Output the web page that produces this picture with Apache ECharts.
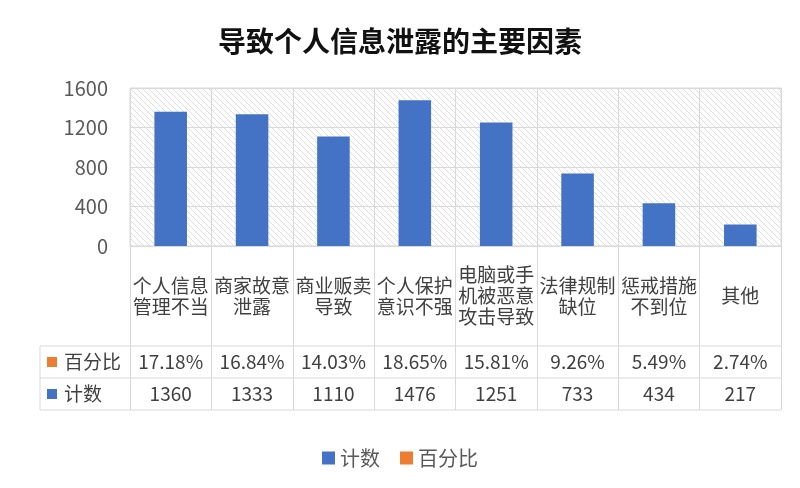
<!DOCTYPE html>
<html>
<head>
<meta charset="utf-8">
<script src="https://cdn.jsdelivr.net/npm/echarts@6/dist/echarts.min.js"></script>
<style>
html,body{margin:0;padding:0;background:#fff;}
#chart{width:800px;height:488px;}
</style>
</head>
<body>
<div id="chart"></div>
<script>
var categories = ['个人信息\n管理不当', '商家故意\n泄露', '商业贩卖\n导致', '个人保护\n意识不强', '电脑或手\n机被恶意\n攻击导致', '法律规制\n缺位', '惩戒措施\n不到位', '其他'];
var counts = [1360, 1333, 1110, 1476, 1251, 733, 434, 217];
var percents = [17.18, 16.84, 14.03, 18.65, 15.81, 9.26, 5.49, 2.74];
var yTicks = [0, 400, 800, 1200, 1600];
var titleText = '导致个人信息泄露的主要因素';
var seriesNames = ['计数', '百分比'];

var FONT = '"Noto Sans CJK SC", "Noto Sans", sans-serif';
var BLUE = '#4472C4', ORANGE = '#ED7D31', LINE = '#d9d9d9', TXT = '#404040';

// hatch pattern
var pc = document.createElement('canvas');
pc.width = 6; pc.height = 6;
var px = pc.getContext('2d');
px.fillStyle = '#ffffff'; px.fillRect(0, 0, 6, 6);
px.strokeStyle = '#dedede'; px.lineWidth = 1;
px.beginPath();
px.moveTo(-1, -1); px.lineTo(7, 7);
px.moveTo(-4, 2); px.lineTo(4, 10);
px.moveTo(2, -4); px.lineTo(10, 4);
px.stroke();

var GL = 130, GR = 19, GT = 88, GB = 242;
var AXIS_Y = 488 - GB;          // 246
var ROW1 = 346, ROW2 = 378, ROW3 = 410, TL = 40, TR = 800 - GR;

var chart = echarts.init(document.getElementById('chart'), null, {renderer: 'canvas'});
chart.setOption({
  animation: false,
  textStyle: {fontFamily: FONT},
  title: {
    text: titleText, left: 'center', top: 22,
    textStyle: {fontSize: 28, fontWeight: 'bold', color: '#111', fontFamily: FONT}
  },
  legend: {
    data: seriesNames, bottom: 15, left: 'center',
    icon: 'rect', itemWidth: 13, itemHeight: 13, itemGap: 20,
    textStyle: {fontSize: 20, color: '#595959', fontFamily: FONT}
  },
  grid: {
    left: GL, right: GR, top: GT, bottom: GB, outerBoundsMode: 'none', containLabel: false,
    show: true, borderColor: LINE, borderWidth: 1,
    backgroundColor: {image: pc, repeat: 'repeat'}
  },
  xAxis: [{
    type: 'category', data: categories, position: 'bottom',
    axisLine: {show: true, lineStyle: {color: LINE, width: 1}},
    axisTick: {show: true, interval: 0, length: ROW3 - AXIS_Y, lineStyle: {color: LINE}},
    splitLine: {show: true, interval: 0, lineStyle: {color: LINE}},
    axisLabel: {interval: 0, hideOverlap: false, margin: 50, verticalAlign: 'middle', lineHeight: 21,
      fontSize: 19, color: TXT, fontFamily: FONT}
  }, {
    type: 'category', data: percents.map(function (p) { return p.toFixed(2) + '%'; }), position: 'bottom',
    axisLine: {show: false}, axisTick: {show: false}, splitLine: {show: false},
    axisLabel: {interval: 0, hideOverlap: false, margin: (ROW1 + ROW2) / 2 - AXIS_Y, verticalAlign: 'middle',
      fontSize: 19, color: TXT, fontFamily: FONT}
  }, {
    type: 'category', data: counts.map(String), position: 'bottom',
    axisLine: {show: false}, axisTick: {show: false}, splitLine: {show: false},
    axisLabel: {interval: 0, hideOverlap: false, margin: (ROW2 + ROW3) / 2 - AXIS_Y, verticalAlign: 'middle',
      fontSize: 19, color: TXT, fontFamily: FONT}
  }],
  yAxis: {
    type: 'value', min: yTicks[0], max: yTicks[yTicks.length - 1], interval: yTicks[1] - yTicks[0],
    axisLine: {show: false}, axisTick: {show: false},
    splitLine: {show: true, lineStyle: {color: LINE}},
    axisLabel: {margin: 22, fontSize: 20, color: '#595959', fontFamily: FONT,
      formatter: function (v) { return String(v); }}
  },
  series: [{
    name: seriesNames[0], type: 'bar', data: counts, barWidth: '40%', barGap: '-100%',
    itemStyle: {color: BLUE}
  }, {
    name: seriesNames[1], type: 'bar', data: percents.map(function (p) { return p / 100; }), barWidth: '40%',
    itemStyle: {color: ORANGE}
  }],
  graphic: [
    {type: 'line', shape: {x1: TL, y1: ROW1, x2: TR, y2: ROW1}, style: {stroke: LINE, lineWidth: 1}},
    {type: 'line', shape: {x1: TL, y1: ROW2, x2: TR, y2: ROW2}, style: {stroke: LINE, lineWidth: 1}},
    {type: 'line', shape: {x1: TL, y1: ROW3, x2: TR, y2: ROW3}, style: {stroke: LINE, lineWidth: 1}},
    {type: 'line', shape: {x1: TL, y1: ROW1, x2: TL, y2: ROW3}, style: {stroke: LINE, lineWidth: 1}},
    {type: 'rect', shape: {x: 47, y: (ROW1 + ROW2) / 2 - 5, width: 10, height: 10}, style: {fill: ORANGE}},
    {type: 'text', x: 64, y: (ROW1 + ROW2) / 2, style: {text: seriesNames[1], fontSize: 19, fill: TXT, fontFamily: FONT, verticalAlign: 'middle'}},
    {type: 'rect', shape: {x: 47, y: (ROW2 + ROW3) / 2 - 5, width: 10, height: 10}, style: {fill: BLUE}},
    {type: 'text', x: 64, y: (ROW2 + ROW3) / 2, style: {text: seriesNames[0], fontSize: 19, fill: TXT, fontFamily: FONT, verticalAlign: 'middle'}}
  ]
});
</script>
</body>
</html>
